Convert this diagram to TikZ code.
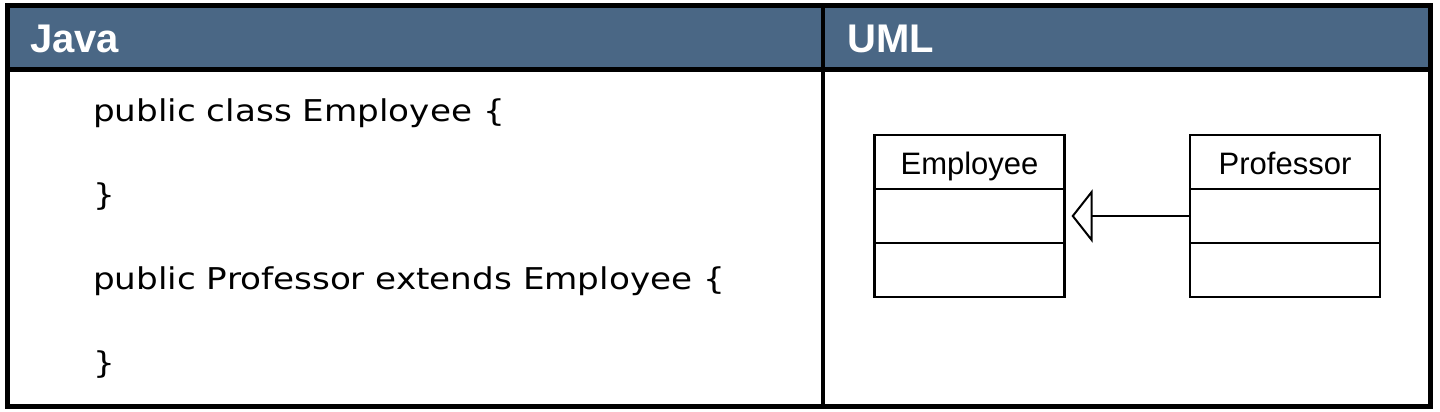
\documentclass[tikz,border=0pt]{standalone}
\usepackage{fontspec}
\usepackage{graphicx}
\usetikzlibrary{positioning,arrows.meta}
\newfontfamily\codefont{DejaVu Sans}
\newfontfamily\umlfont{Liberation Sans}
\definecolor{headblue}{RGB}{74,103,133}
\tikzset{
  headtext/.style = {anchor=base west, inner sep=0, text=white,
    font=\umlfont\bfseries\fontsize{40}{48}\selectfont},
  codeline/.style = {anchor=base west, inner sep=0,
    font=\codefont\fontsize{30}{36}\selectfont},
  classpart/.style = {draw, line width=2.2pt, minimum width=190pt,
    minimum height=54pt, inner sep=0, outer sep=0,
    text height=30pt, text depth=4pt,
    font=\umlfont\fontsize{31}{37}\selectfont},
}
\begin{document}
\begin{tikzpicture}[x=1pt, y=1pt]
  \useasboundingbox (0,0) rectangle (1440,412);
  % table frame
  \fill[white] (7.5,5.5) rectangle (1430,406.3);
  \fill[headblue] (7.5,342.5) rectangle (1430,406.3);
  \draw[line width=4.5pt] (7.5,342.5) -- (1430,342.5);
  \draw[line width=4.5pt] (823,5.5) -- (823,406.3);
  \draw[line width=5pt] (7.5,5.5) rectangle (1430,406.3);
  \node[headtext] (java) at (30,359) {Java};
  \node[headtext] (uml) at (847,359) {UML};
  % java code
  \node[codeline] (line1) at (93,290) {\scalebox{1.14}[1]{public class Employee \{}};
  \node[codeline] (line2) at (93,206) {\scalebox{1.14}[1]{\}}};
  \node[codeline] (line3) at (93,122) {\scalebox{1.14}[1]{public Professor extends Employee \{}};
  \node[codeline] (line4) at (93,38) {\scalebox{1.14}[1]{\}}};
  % uml classes
  \node[classpart] (emp) at (969.5,250) {Employee};
  \node[classpart, below=0pt of emp] (emp-a) {};
  \node[classpart, below=0pt of emp-a] (emp-m) {};
  \node[classpart] (prof) at (1285,250) {Professor};
  \node[classpart, below=0pt of prof] (prof-a) {};
  \node[classpart, below=0pt of prof-a] (prof-m) {};
  \draw[line width=2pt, shorten >=7pt,
    -{Triangle[open, length=21pt, width=53pt]}] (prof-a.west) -- (emp-a.east);
\end{tikzpicture}
\end{document}
